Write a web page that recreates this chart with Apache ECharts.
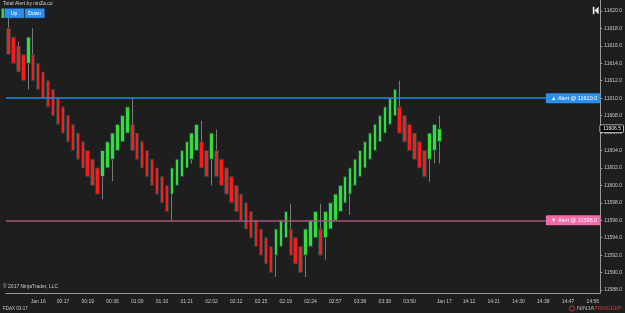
<!DOCTYPE html>
<html><head><meta charset="utf-8">
<script src="https://cdn.jsdelivr.net/npm/echarts@6/dist/echarts.min.js"></script>
<style>html,body{margin:0;padding:0;background:#1e1e1e}#c{width:625px;height:313px}</style>
</head><body><div id="c"></div>
<script>
// Renko-style bricks (FDAX 03-17)
const opens = [
11618,11617,11616,11615,11614,11615,11614,11613,11612,11611,
11610,11609,11608,11607,11606,11605,11604,11603,11602,11601,
11602,11603,11604,11605,11606,11607,11606,11605,11604,11603,
11602,11601,11600,11599,11600,11601,11602,11603,11604,11605,
11604,11603,11604,11603,11602,11601,11600,11599,11598,11597,
11596,11595,11594,11593,11592,11593,11594,11595,11594,11593,
11592,11593,11594,11595,11594,11595,11596,11597,11598,11599,
11600,11601,11602,11603,11604,11605,11606,11607,11608,11609,
11608,11607,11606,11605,11604,11603,11604,11605];
const closes = [
11615,11614,11613,11612,11617,11612,11611,11610,11609,11608,
11607,11606,11605,11604,11603,11602,11601,11600,11599,11604,
11605,11606,11607,11608,11609,11604,11603,11602,11601,11600,
11599,11598,11597,11602,11603,11604,11605,11606,11607,11602,
11601,11606,11601,11600,11599,11598,11597,11596,11595,11594,
11593,11592,11591,11590,11595,11596,11597,11592,11591,11590,
11595,11596,11597,11592,11597,11598,11599,11600,11601,11602,
11603,11604,11605,11606,11607,11608,11609,11610,11611,11606,
11605,11604,11603,11602,11601,11606,11607,11606.5];
// [brick index, wick end]
const upperWicks = [[0,11619.2],[2,11616.5],[5,11618],[25,11610],[39,11607.4],[42,11606.4],[57,11597.9],[63,11597.9],[79,11612],[87,11608]];
const lowerWicks = [[4,11611],[19,11598.4],[21,11600.5],[33,11596],[37,11602.5],[41,11600],[54,11589.5],[60,11589.5],[64,11591.5],[69,11596.6],[85,11600.4],[86,11602.5],[87,11602.5]];

const tickLabels = ['Jan 16','00:17','00:19','00:36','01:00','01:10','01:21','02:02','02:12','02:15','02:19','02:24','02:57','03:36','03:38','03:50','Jan 17','14:12','14:21','14:30','14:38','14:47','14:56'];
const tickBars = [6,11,16,21,26,31,36,41,46,51,56,61,66,71,76,81,88,93,98,103,108,113,118];
const extraTicks = [1,86];
const slotCount = 120;

const alertUp = 11610, alertDown = 11596;
const lastPrice = 11606.5;
const yTop = 11621.26, yBottom = 11587.66;

// build
const cats = new Array(slotCount).fill('');
tickBars.forEach((b,k)=>{cats[b]=tickLabels[k];});
const hiMap = {}, loMap = {};
upperWicks.forEach(([i,v])=>hiMap[i]=v);
lowerWicks.forEach(([i,v])=>loMap[i]=v);
const bodyData = opens.map((o,i)=>{const c=closes[i];return [o,c,Math.min(o,c),Math.max(o,c)];});
const wickData = opens.map((o,i)=>{const c=closes[i];
  const lo = loMap[i]!=null?loMap[i]:Math.min(o,c);
  const hi = hiMap[i]!=null?hiMap[i]:Math.max(o,c);
  return [o,c,lo,hi];});

const FONT = 'Liberation Sans, Arial, sans-serif';
const chart = echarts.init(document.getElementById('c'), null, {renderer:'canvas'});
chart.setOption({
  backgroundColor:'#1e1e1e',
  animation:false,
  grid:{left:6,right:20,top:0,bottom:20},
  xAxis:{type:'category',data:cats,boundaryGap:true,
    axisLine:{lineStyle:{color:'#9a9a9a',width:1}},
    axisTick:{alignWithLabel:true,length:3,lineStyle:{color:'#9a9a9a'},
      interval:(idx)=>tickBars.includes(idx)||extraTicks.includes(idx)},
    axisLabel:{interval:0,color:'#c8c8c8',fontSize:5,margin:6,fontFamily:FONT},
    splitLine:{show:false}},
  yAxis:{type:'value',position:'right',min:yBottom,max:yTop,scale:true,
    minInterval:2,maxInterval:2,splitNumber:16,
    axisLine:{show:true,lineStyle:{color:'#9a9a9a',width:1}},
    axisTick:{show:true,length:2,lineStyle:{color:'#9a9a9a'}},
    axisLabel:{color:'#c8c8c8',fontSize:5,margin:4,fontFamily:FONT,showMinLabel:false,showMaxLabel:false,
      formatter:v=>v.toFixed(1)},
    splitLine:{show:false}},
  series:[
    {type:'candlestick',name:'wick',data:wickData,barWidth:1,silent:true,
      itemStyle:{color:'#7a7a7a',color0:'#7a7a7a',borderColor:'#7a7a7a',borderColor0:'#7a7a7a',borderWidth:1}},
    {type:'candlestick',name:'bricks',data:bodyData,barWidth:4,silent:true,
      itemStyle:{color:'#33dd33',color0:'#ff1a1a',borderColor:'#24403f',borderColor0:'#24403f',borderWidth:1},
      markLine:{symbol:['none','none'],silent:true,animation:false,
        data:[
          {yAxis:alertUp,lineStyle:{color:'#1e88f0',width:1.5,type:'solid'},
            label:{show:true,position:'insideEnd',distance:0,formatter:'▲ Alert @ '+alertUp.toFixed(1),
              backgroundColor:'#2a90f0',color:'#fff',fontSize:5.5,fontFamily:FONT,padding:[2,3,2,5],borderRadius:1}},
          {yAxis:alertDown,lineStyle:{color:'#a05a7c',width:1.5,type:'solid'},
            label:{show:true,position:'insideEnd',distance:0,formatter:'▼ Alert @ '+alertDown.toFixed(1),
              backgroundColor:'#f26aa8',color:'#fff',fontSize:5.5,fontFamily:FONT,padding:[2,3,2,5],borderRadius:1}},
          {yAxis:lastPrice,lineStyle:{color:'rgba(0,0,0,0)',width:1,type:'solid'},
            label:{show:true,position:'end',distance:0,formatter:lastPrice.toFixed(1),
              backgroundColor:'#000',borderColor:'#ddd',borderWidth:0.8,color:'#fff',fontSize:5,fontFamily:FONT,padding:[1,2,1,3],borderRadius:1}}
        ]}}
  ],
  graphic:[
    {type:'text',left:3,top:1,style:{text:'Total Alert by ninZa.co',fill:'#d0d0d0',font:'5px '+FONT}},
    {type:'rect',shape:{x:1.5,y:8.5,width:2.5,height:9.5},style:{fill:'#3ad03a'}},
    {type:'rect',shape:{x:4.5,y:8.5,width:19.5,height:9.5},style:{fill:'#2f8fe8',stroke:'#1a5fa8',lineWidth:0.5}},
    {type:'rect',shape:{x:25,y:8.5,width:19.5,height:9.5},style:{fill:'#2f8fe8',stroke:'#1a5fa8',lineWidth:0.5}},
    {type:'text',x:14.2,y:13.2,style:{text:'Up',fill:'#fff',font:'5px '+FONT,align:'center',verticalAlign:'middle'}},
    {type:'text',x:34.7,y:13.2,style:{text:'Down',fill:'#fff',font:'5px '+FONT,align:'center',verticalAlign:'middle'}},
    {type:'rect',shape:{x:592.8,y:6.8,width:1.6,height:7.4},style:{fill:'#f0f0f0'}},
    {type:'polygon',shape:{points:[[594.4,10.5],[598.6,6.8],[598.6,14.2]]},style:{fill:'#f0f0f0'}},
    {type:'text',left:3,top:284,style:{text:'© 2017 NinjaTrader, LLC',fill:'#c8c8c8',font:'5px '+FONT}},
    {type:'text',left:3,top:306,style:{text:'FDAX 03-17',fill:'#c8c8c8',font:'4.5px '+FONT}},
    {type:'circle',shape:{cx:572,cy:308.5,r:2.6},style:{fill:'none',stroke:'#c0392b',lineWidth:1}},
    {type:'text',left:577,top:305,style:{rich:{a:{fill:'#b8b8b8',font:'6px '+FONT},b:{fill:'#d8342c',font:'6px '+FONT},c:{fill:'#b8b8b8',font:'3px '+FONT}},text:'{a|NINJA}{b|TRADER}{c|®}'}}
  ]
});
</script></body></html>
